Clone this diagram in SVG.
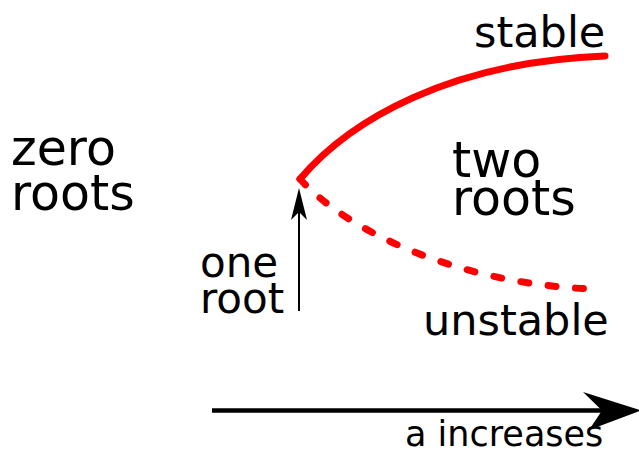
<svg xmlns="http://www.w3.org/2000/svg" width="639" height="450" viewBox="0 0 639 450">
<style>
text{font-family:"DejaVu Sans",sans-serif;fill:#000}
.region{font-size:49px}
.branchlabel{font-size:43px}
.root{font-size:42px}
.small{font-size:35px}
.branch{fill:none;stroke:#ff0000;stroke-width:7;stroke-linecap:round}
.dash{stroke-dasharray:8 19.5}
.axis{stroke:#000;fill:none}
</style>
<rect width="639" height="450" fill="#fff"/>
<g id="connectors">
<path id="stable-branch" class="branch" d="M300,179 C350,120 450,62 605,56"/>
<path id="unstable-branch" class="branch dash" d="M300,179 C348,232 460,284 592,289"/>
<line id="root-arrow-line" class="axis" x1="299" y1="311" x2="299" y2="208" stroke-width="2"/>
<path id="root-arrow-head" d="M299,188 L307,220 L299,212 L291,220 Z" fill="#000"/>
<line id="a-axis-line" class="axis" x1="212" y1="410.5" x2="605" y2="410.5" stroke-width="4.5"/>
<path id="a-axis-head" d="M641,410.5 L583,392 L602,410.5 L589,430 Z" fill="#000"/>
</g>
<g id="label-stable"><text class="branchlabel" x="474" y="47">stable</text></g>
<g id="label-zero-roots"><text class="region" x="11" y="164.5">zero</text><text class="region" x="11" y="210">roots</text></g>
<g id="label-two-roots"><text class="region" x="452" y="177">two</text><text class="region" x="452" y="215">roots</text></g>
<g id="label-one-root"><text class="root" x="200" y="277">one</text><text class="root" x="200" y="313">root</text></g>
<g id="label-unstable"><text class="branchlabel" x="423" y="335">unstable</text></g>
<g id="label-a-increases"><text class="small" x="405" y="446">a increases</text></g>
</svg>
